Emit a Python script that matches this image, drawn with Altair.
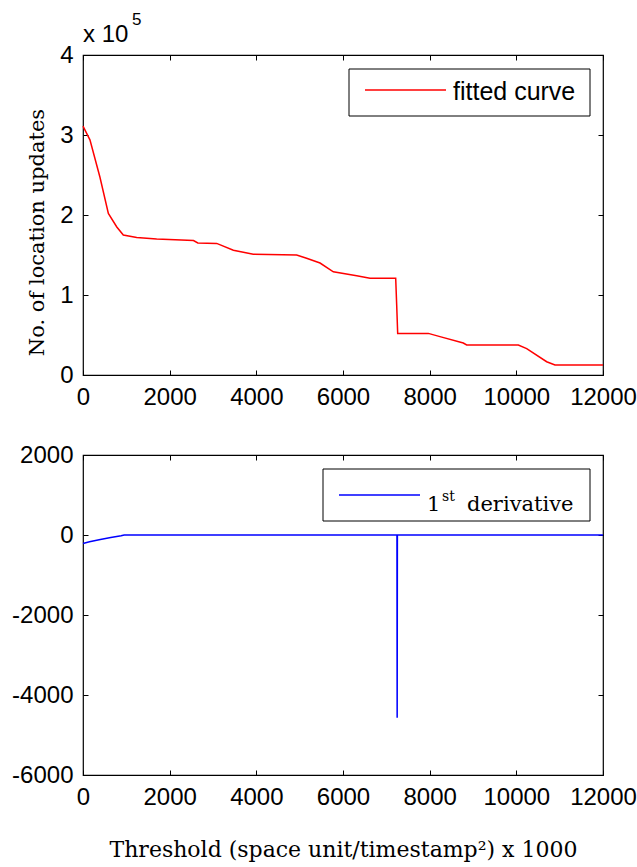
import altair as alt
import pandas as pd

# Fitted curve: number of location updates vs. threshold
threshold = [0, 160, 390, 585, 780, 930, 1240, 1700, 2550, 2650, 3085, 3470, 3930,
             4930, 5160, 5470, 5777, 6316, 6623, 7216, 7239, 7262, 7969, 8238,
             8776, 8854, 10046, 10239, 10700, 10892, 12000]
updates_e5 = [3.11, 2.94, 2.475, 2.02, 1.85, 1.75, 1.72, 1.70, 1.68, 1.65, 1.645,
              1.56, 1.51, 1.50, 1.46, 1.40, 1.29, 1.24, 1.21, 1.21, 0.875, 0.52,
              0.52, 0.48, 0.40, 0.375, 0.375, 0.33, 0.166, 0.125, 0.125]

# First derivative of the fitted curve
deriv_x = [0, 150, 400, 640, 880, 950, 7245, 7250, 7255, 12000]
deriv_y = [-210, -170, -110, -65, -20, 0, 0, -4570, 0, 0]

x_ticks = [0, 2000, 4000, 6000, 8000, 10000, 12000]
top_y_ticks = [0, 100000, 200000, 300000, 400000]
bottom_y_ticks = [-6000, -4000, -2000, 0, 2000]

W, H = 520, 320
SANS = "Liberation Sans"
SERIF = "DejaVu Serif"

top_df = pd.DataFrame({"threshold": threshold,
                       "updates": [v * 1e5 for v in updates_e5]})
bot_df = pd.DataFrame({"threshold": deriv_x, "deriv": deriv_y})
one = alt.Data(values=[{}])

x_scale = alt.Scale(domain=[0, 12000], nice=False, zero=False)


def axis(orient, values, labels=True, label_expr="toString(datum.value)", title=None, **kw):
    args = dict(orient=orient, values=values, offset=-5, tickSize=5, domain=False,
                grid=False, tickColor="black", tickWidth=1, labels=labels,
                labelFont=SANS, labelFontSize=24, labelColor="black",
                labelPadding=10, labelOverlap=False, labelBound=False,
                labelFlush=False, labelExpr=label_expr, title=title)
    args.update(kw)
    return alt.Axis(**args)


def panel(df, yfield, yscale, yticks, color, ylabel_expr="toString(datum.value)",
          ytitle=None, xtitle=None, ytitle_kw=None, xtitle_kw=None):
    ykw = ytitle_kw or {}
    xkw = xtitle_kw or {}
    main = alt.Chart(df).mark_line(color=color, strokeWidth=1.5).encode(
        x=alt.X("threshold:Q", scale=x_scale,
                axis=axis("bottom", x_ticks, title=xtitle, **xkw)),
        y=alt.Y(f"{yfield}:Q", scale=yscale,
                axis=axis("left", yticks, label_expr=ylabel_expr, title=ytitle, **ykw)),
    )
    # invisible copy that carries the tick marks on the top and right edges
    mirror = alt.Chart(df).mark_line(opacity=0).encode(
        x=alt.X("threshold:Q", scale=x_scale, axis=axis("top", x_ticks, labels=False)),
        y=alt.Y(f"{yfield}:Q", scale=yscale, axis=axis("right", yticks, labels=False)),
    )
    return main, mirror


# ---------- top panel ----------
top_line, top_mirror = panel(
    top_df, "updates", alt.Scale(domain=[0, 400000], nice=False), top_y_ticks, "#ff0000",
    ylabel_expr="toString(datum.value / 100000)",
    ytitle="No. of location updates",
    ytitle_kw=dict(titleFont=SERIF, titleFontSize=21, titleFontWeight="normal",
                   titleColor="black", titlePadding=12, titleY=177),
)

top_legend = [
    alt.Chart(one).mark_rect(fill="white", stroke="black", strokeWidth=1).encode(
        x=alt.value(266), x2=alt.value(507), y=alt.value(14), y2=alt.value(61)),
    alt.Chart(one).mark_rule(color="#ff0000", strokeWidth=1.5).encode(
        x=alt.value(282), x2=alt.value(363), y=alt.value(35)),
    alt.Chart(one).mark_text(text="fitted curve", font=SANS, fontSize=25, align="left",
                             baseline="alphabetic", color="black").encode(
        x=alt.value(370), y=alt.value(45)),
]

exponent = [
    alt.Chart(one).mark_text(text="x 10", font=SANS, fontSize=24, align="left",
                             baseline="alphabetic", color="black").encode(
        x=alt.value(0), y=alt.value(-13)),
    alt.Chart(one).mark_text(text="5", font=SANS, fontSize=17, align="left",
                             baseline="alphabetic", color="black").encode(
        x=alt.value(49), y=alt.value(-30)),
]

top = alt.layer(top_line, top_mirror, *top_legend, *exponent).resolve_axis(
    x="independent", y="independent"
).properties(width=W, height=H)

# ---------- bottom panel ----------
bot_line, bot_mirror = panel(
    bot_df, "deriv", alt.Scale(domain=[-6000, 2000], nice=False), bottom_y_ticks, "#0000ff",
    xtitle="Threshold (space unit/timestamp²) x 1000",
    xtitle_kw=dict(titleFont=SERIF, titleFontSize=22, titleFontWeight="normal",
                   titleColor="black", titlePadding=30),
)

bot_legend = [
    alt.Chart(one).mark_rect(fill="white", stroke="black", strokeWidth=1).encode(
        x=alt.value(240), x2=alt.value(507), y=alt.value(14), y2=alt.value(66)),
    alt.Chart(one).mark_rule(color="#0000ff", strokeWidth=1.5).encode(
        x=alt.value(256), x2=alt.value(337), y=alt.value(40)),
    alt.Chart(one).mark_text(text="1", font=SERIF, fontSize=21, align="left",
                             baseline="alphabetic", color="black").encode(
        x=alt.value(344), y=alt.value(56)),
    alt.Chart(one).mark_text(text="st", font=SERIF, fontSize=14, align="left",
                             baseline="alphabetic", color="black").encode(
        x=alt.value(359), y=alt.value(46)),
    alt.Chart(one).mark_text(text="derivative", font=SERIF, fontSize=21, align="left",
                             baseline="alphabetic", color="black").encode(
        x=alt.value(384), y=alt.value(56)),
]

bottom = alt.layer(bot_line, bot_mirror, *bot_legend).resolve_axis(
    x="independent", y="independent"
).properties(width=W, height=H)

chart = alt.vconcat(top, bottom, spacing=32).properties(
    padding={"left": 11, "top": 10, "right": 0, "bottom": 5},
    background="white",
).configure_view(stroke="black", strokeWidth=1.2)

chart.save("out.html", embed_options={"renderer": "svg", "actions": False})
